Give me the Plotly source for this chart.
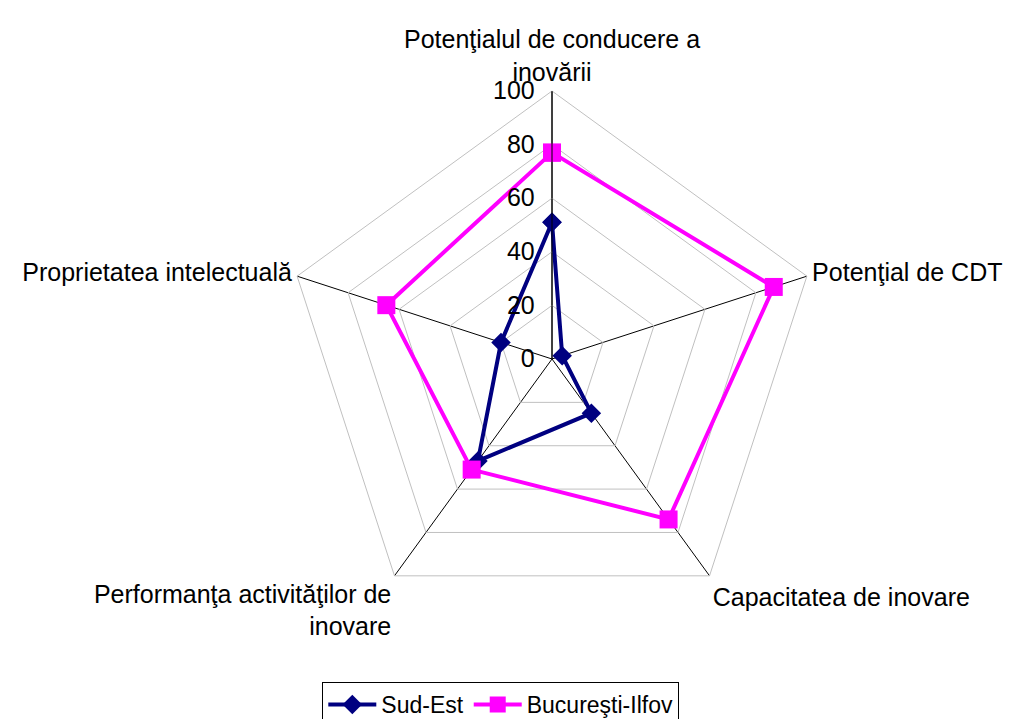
import plotly.graph_objects as go

categories = ["Potenţialul de conducere a<br>inovării", "Potenţial de CDT", "Capacitatea de inovare",
              "Performanţa activităţilor de<br>inovare", "Proprietatea intelectuală"]
sud_est = [51, 4, 25, 47, 20]
buc_ilfov = [77, 87, 74, 51, 65]
radial_ticks = [0, 20, 40, 60, 80, 100]

fig = go.Figure()
fig.add_trace(go.Scatterpolar(
    r=sud_est + [sud_est[0]], theta=categories + [categories[0]],
    mode="lines+markers", name="Sud-Est",
    line=dict(color="#000080", width=4),
    marker=dict(symbol="diamond", size=15, color="#000080"),
))
fig.add_trace(go.Scatterpolar(
    r=buc_ilfov + [buc_ilfov[0]], theta=categories + [categories[0]],
    mode="lines+markers", name="Bucureşti-Ilfov",
    line=dict(color="#FF00FF", width=4),
    marker=dict(symbol="square", size=18, color="#FF00FF"),
))

cx, cy, R = 544, 351, 268
W, H = 1014, 719
fig.update_layout(
    width=W, height=H,
    margin=dict(l=0, r=0, t=0, b=0),
    paper_bgcolor="white", plot_bgcolor="white",
    font=dict(family="Liberation Sans, Arial, sans-serif", size=25, color="black"),
    polar=dict(
        domain=dict(x=[(cx - R) / W, (cx + R) / W], y=[1 - (cy + R) / H, 1 - (cy - R) / H]),
        bgcolor="white",
        gridshape="linear",
        radialaxis=dict(
            range=[0, 100], tickvals=radial_ticks, angle=90, tickangle=90,
            side="counterclockwise",
            showline=True, linecolor="black", linewidth=1,
            gridcolor="#C0C0C0", gridwidth=1,
            ticks="outside", ticklen=8, tickcolor="rgba(0,0,0,0)",
            tickfont=dict(size=25, color="black"),
        ),
        angularaxis=dict(
            rotation=90, direction="clockwise",
            showline=True, linecolor="#C0C0C0", linewidth=1,
            gridcolor="black", gridwidth=1,
            ticks="", tickfont=dict(size=25, color="black"),
        ),
    ),
    legend=dict(
        orientation="h", x=0.486, xanchor="center", y=0.0, yanchor="bottom",
        bordercolor="black", borderwidth=1, font=dict(size=23),
        itemwidth=48, tracegroupgap=0,
    ),
)

fig.write_html("out.html")
